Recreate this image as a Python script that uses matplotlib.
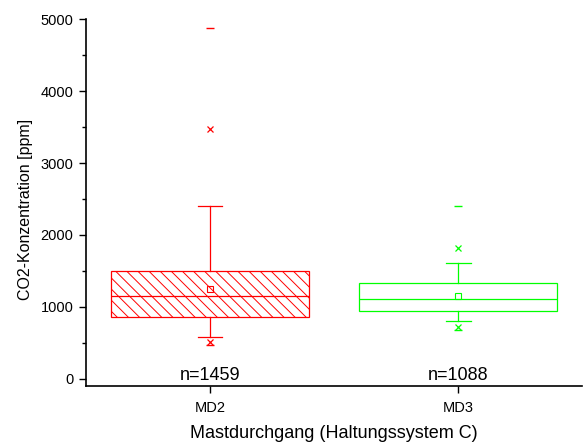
import matplotlib
matplotlib.use("Agg")
import matplotlib.pyplot as plt
from matplotlib.ticker import MultipleLocator

plt.rcParams['font.family'] = ['Liberation Sans', 'DejaVu Sans']
plt.rcParams['hatch.linewidth'] = 0.7

# box statistics (ppm)
labels = ['MD2', 'MD3']
counts = [1459, 1088]
q1 = [854, 943]
med = [1152, 1105]
q3 = [1500, 1327]
whis_lo = [581, 798]
whis_hi = [2400, 1611]
means = [1253, 1146]
p1 = [506, 715]
p99 = [3468, 1825]
mins = [473, 682]
maxs = [4884, 2405]
colors = ['#ff0000', '#00ff00']
hatches = ['\\\\\\', '']

fig = plt.figure(figsize=(5.84, 4.43), dpi=100)
ax = fig.add_axes([0.147, 0.1287, 0.85, 0.828])

pos = [1, 2]
for i in range(2):
    st = [dict(label=labels[i], med=med[i], q1=q1[i], q3=q3[i],
               whislo=whis_lo[i], whishi=whis_hi[i], mean=means[i], fliers=[])]
    c = colors[i]
    ax.bxp(st, positions=[pos[i]], widths=0.8, capwidths=0.1,
           showmeans=True, patch_artist=True, manage_ticks=False,
           boxprops=dict(facecolor='white', edgecolor=c, linewidth=0.9, hatch=hatches[i]),
           medianprops=dict(color=c, linewidth=0.9),
           whiskerprops=dict(color=c, linewidth=0.9),
           capprops=dict(color=c, linewidth=0.9),
           meanprops=dict(marker='s', markerfacecolor='none', markeredgecolor=c,
                          markersize=4, markeredgewidth=0.8))
    ax.plot([pos[i], pos[i]], [p1[i], p99[i]], ls='none', marker='x', color=c,
            markersize=4, markeredgewidth=0.9)
    ax.plot([pos[i], pos[i]], [mins[i], maxs[i]], ls='none', marker='_', color=c,
            markersize=6, markeredgewidth=1.0)
    ax.text(pos[i], 45, 'n=%d' % counts[i], ha='center', va='center', fontsize=13)

ax.set_xlim(0.5, 2.5)
ax.set_ylim(-100, 5000)
ax.set_xticks(pos)
ax.set_xticklabels(labels, fontsize=10.5)
ax.yaxis.set_major_locator(MultipleLocator(1000))
ax.yaxis.set_minor_locator(MultipleLocator(500))
ax.tick_params(axis='y', labelsize=10.5, length=5, width=1, direction='out', pad=4)
ax.tick_params(axis='y', which='minor', length=3, width=1)
ax.tick_params(axis='x', length=5, width=1, direction='out', pad=5.5)
ax.spines['top'].set_visible(False)
ax.spines['right'].set_visible(False)
ax.spines['left'].set_linewidth(1.2)
ax.spines['bottom'].set_linewidth(1.2)

ax.set_xlabel('Mastdurchgang (Haltungssystem C)', fontsize=13)
ax.set_ylabel('CO2-Konzentration [ppm]', fontsize=11.5)
ax.yaxis.set_label_coords(-0.107, 0.48)
ax.xaxis.set_label_coords(0.5, -0.105)

fig.savefig('out.png', dpi=100)
